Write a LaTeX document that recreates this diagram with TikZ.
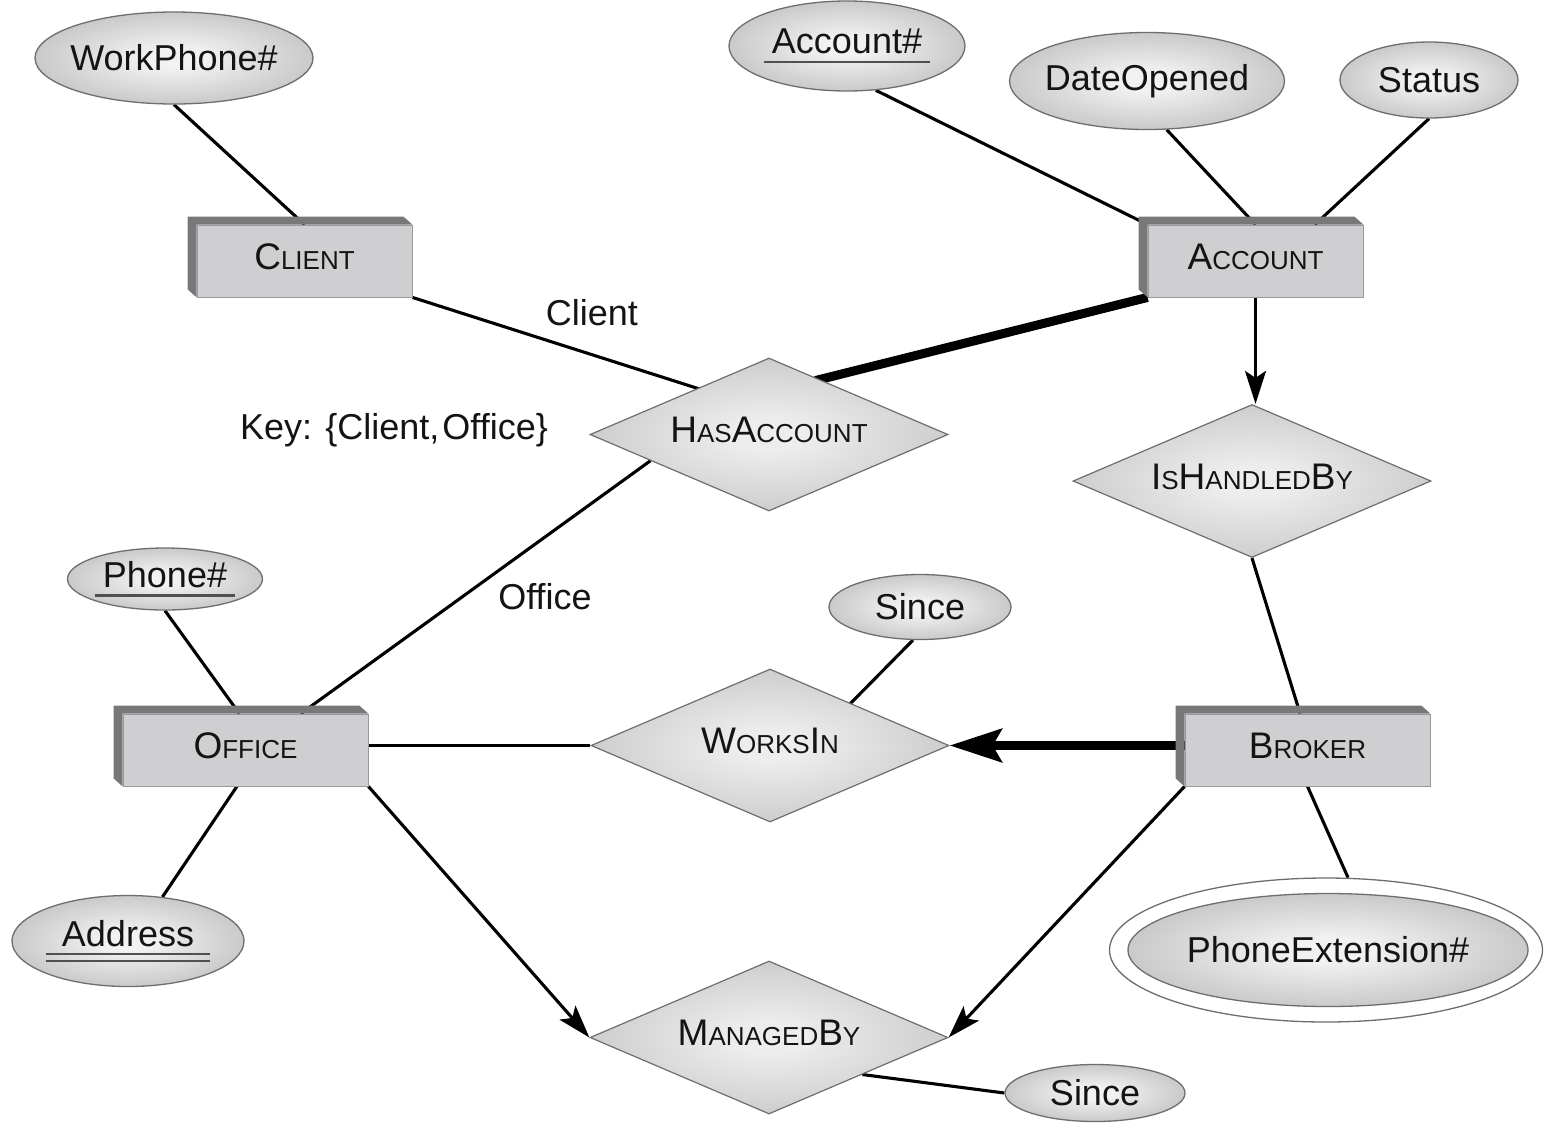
\documentclass[tikz,border=0pt]{standalone}
\usepackage{fontspec}
\setmainfont{Liberation Sans}
\usetikzlibrary{shapes.geometric,arrows.meta,calc}
\definecolor{facegray}{HTML}{CFCFD1}
\definecolor{bevelgray}{HTML}{77787A}
\definecolor{edgegray}{HTML}{6E6E70}
\definecolor{ulgray}{HTML}{505050}
\definecolor{txt}{HTML}{141414}
\definecolor{shA}{HTML}{F2F2F2}
\definecolor{shB}{HTML}{979797}
\definecolor{dA}{HTML}{EDEDED}
\definecolor{dB}{HTML}{A6A6A6}
\pgfdeclareradialshading{ershade}{\pgfpoint{0bp}{0bp}}{color(0bp)=(shA); color(5bp)=(shA); color(50bp)=(shB)}
\pgfdeclareradialshading{dshade}{\pgfpoint{0bp}{0bp}}{color(0bp)=(dA); color(5bp)=(dA); color(50bp)=(dB)}
\pgfdeclarelayer{bg}
\pgfsetlayers{bg,main}
\newcommand\Ecap[2]{{\fontsize{37}{37}\selectfont #1}{\fontsize{26}{26}\selectfont #2}}
\newcommand\ulone[1]{\setbox0\hbox{#1}\rlap{\hskip-8pt\raisebox{-9pt}{\color{ulgray}\rule{\dimexpr\wd0+16pt\relax}{2.2pt}}}\box0}
\newcommand\ultwo[1]{\setbox0\hbox{#1}\rlap{\hskip-16pt\raisebox{-9pt}{\color{ulgray}\rule{\dimexpr\wd0+32pt\relax}{2pt}}}\rlap{\hskip-16pt\raisebox{-16pt}{\color{ulgray}\rule{\dimexpr\wd0+32pt\relax}{2pt}}}\box0}
\tikzset{
  attr/.style={ellipse, draw=edgegray, line width=1.3pt, shading=ershade, inner sep=0pt, text=txt, font=\fontsize{36}{36}\selectfont},
  rel/.style={diamond, draw=edgegray, line width=1.2pt, shading=dshade, inner sep=0pt, minimum width=358pt, minimum height=153pt, text=txt, text depth=9pt},
  ent/.style={rectangle, draw=edgegray!70, line width=0.8pt, fill=facegray, inner sep=0pt, minimum height=72pt, text=txt, text depth=8pt},
  lbl/.style={text=txt, inner sep=0pt, font=\fontsize{36}{36}\selectfont},
  conn/.style={line width=3.1pt, black},
  heavy/.style={line width=9pt, black},
  into/.style={shorten >=-5pt},
  arr/.style={-{Stealth[length=33pt,width=21pt,inset=7pt]}},
  bigarr/.style={-{Stealth[length=52pt,width=33pt,inset=9pt]}}
}
\begin{document}
\begin{tikzpicture}[x=1pt,y=-1pt]
\useasboundingbox (0,0) rectangle (1544,1125);
% attributes
\node[attr, minimum width=278pt, minimum height=92pt] (wp) at (174,58) {\makebox[0pt]{WorkPhone\#}};
\node[attr, minimum width=236pt, minimum height=90pt] (an) at (847,46) {\makebox[0pt]{\ulone{Account\#}}};
\node[attr, minimum width=275pt, minimum height=97pt] (do) at (1147,81) {\makebox[0pt]{DateOpened}};
\node[attr, minimum width=178pt, minimum height=76pt] (st) at (1429,80) {\makebox[0pt]{Status}};
\node[attr, minimum width=195pt, minimum height=62pt] (ph) at (165,579) {\makebox[0pt]{\ulone{Phone\#}}};
\node[attr, minimum width=232pt, minimum height=91pt] (ad) at (128,941) {\makebox[0pt]{\ultwo{Address}}};
\node[attr, minimum width=182pt, minimum height=65pt] (s1) at (920,607) {\makebox[0pt]{Since}};
\node[attr, minimum width=180pt, minimum height=57pt] (s2) at (1095,1093) {\makebox[0pt]{Since}};
\node[ellipse, draw=edgegray, line width=1.3pt, fill=white, minimum width=433pt, minimum height=144pt, inner sep=0pt] (peo) at (1326,950) {};
\node[attr, minimum width=400pt, minimum height=113pt] (pe) at (1328,950) {\makebox[0pt]{PhoneExtension\#}};
% entities
\node[ent, minimum width=215pt] (cl) at (304.5,261) {\Ecap{C}{LIENT}};
\node[ent, minimum width=215pt] (ac) at (1255.5,261) {\Ecap{A}{CCOUNT}};
\node[ent, minimum width=245pt] (of) at (245.5,750) {\Ecap{O}{FFICE}};
\node[ent, minimum width=245pt] (br) at (1307.5,750) {\Ecap{B}{ROKER}};
% relationships
\node[rel] (ha) at (769,434.5) {\makebox[0pt]{\Ecap{H}{AS}\Ecap{A}{CCOUNT}}};
\node[rel] (ih) at (1252,481) {\makebox[0pt]{\Ecap{I}{S}\Ecap{H}{ANDLED}\Ecap{B}{Y}}};
\node[rel] (wi) at (770,745.5) {\makebox[0pt]{\Ecap{W}{ORKS}\Ecap{I}{N}}};
\node[rel] (mb) at (769,1037.5) {\makebox[0pt]{\Ecap{M}{ANAGED}\Ecap{B}{Y}}};
% free labels
\node[lbl] (lc) at (592,313) {Client};
\node[lbl] (lo) at (545,597) {Office};
\node[lbl] (key) at (394,430) {Key: \{Client,\hspace{3pt}Office\}};
\begin{pgfonlayer}{bg}
\fill[white] (0,0) rectangle (1544,1125);
\draw[conn] (wp.south) -- (cl.north);
\draw[conn, into] (cl.south east) -- ($(ha.west)!0.6!(ha.north)$);
\draw[heavy, into] (ac.south west) -- ($(ha.north)!0.285!(ha.east)$);
\draw[conn] (an.-57) -- (ac.north west);
\draw[conn] (do.-68) -- (ac.north);
\draw[conn] (st.south) -- ($(ac.north)!0.55!(ac.north east)$);
\draw[conn, arr] (ac.south) -- (ac.south |- ih.north);
\draw[conn] (ih.south) -- ($(br.north west)!0.94!(br.north)$);
\draw[heavy, bigarr] (br.west |- wi.east) -- (wi.east);
\draw[conn] (of.east |- wi.west) -- (wi.west);
\draw[conn, into] (s1.-102) -- ($(wi.north)!0.45!(wi.east)$);
\draw[conn] ($(of.north)!0.45!(of.north east)$) -- ($(ha.west)!0.34!(ha.south)$);
\draw[conn] (ph.south) -- ($(of.north west)!0.95!(of.north)$);
\draw[conn] ($(of.south west)!0.93!(of.south)$) -- (ad.52);
\draw[conn, arr] (of.south east) -- (mb.west);
\draw[conn, arr] (br.south west) -- (mb.east);
\draw[conn] (br.south) -- (peo.73);
\draw[conn] ($(mb.east)!0.48!(mb.south)$) -- (s2.west);
% bevels of the entity boxes
\foreach \e in {cl,ac,of,br}{
  \fill[bevelgray] (\e.south west) -- ++(-9,-8) -- ($(\e.north west)+(-9,-8)$) -- ($(\e.north east)+(-9,-8)$) -- (\e.north east) -- (\e.north west) -- cycle;
}
\end{pgfonlayer}
\end{tikzpicture}
\end{document}
